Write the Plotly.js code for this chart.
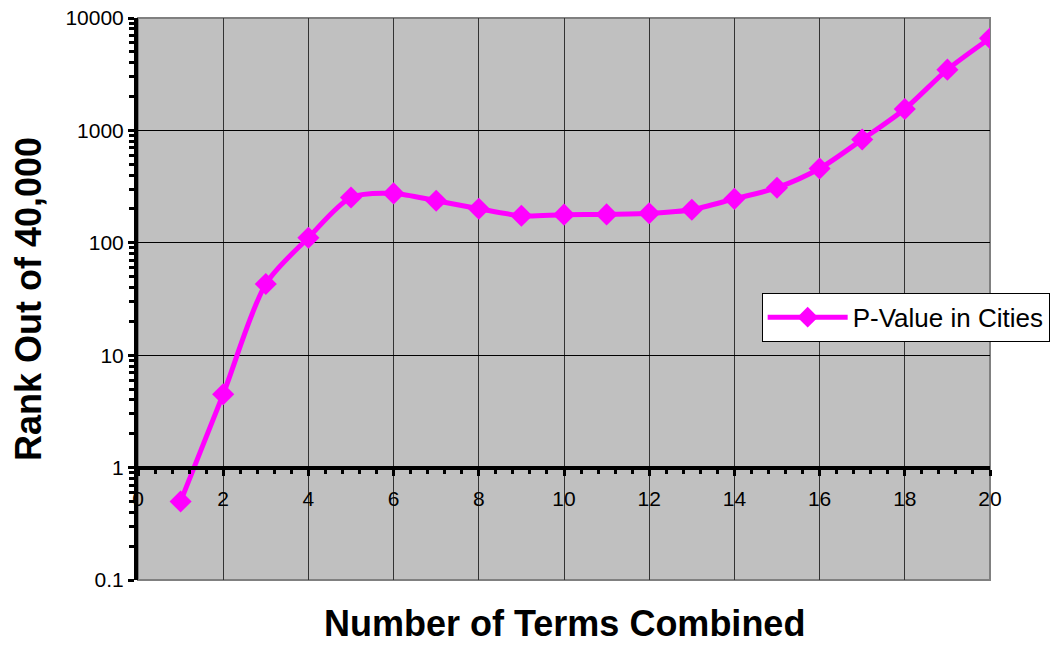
<!DOCTYPE html>
<html>
<head>
<meta charset="utf-8">
<script src="https://cdn.plot.ly/plotly-3.0.1.min.js"></script>
<style>html,body{margin:0;padding:0;background:#fff;}#chart{width:1063px;height:645px;}</style>
</head>
<body>
<div id="chart"></div>
<script>
const termsCombined = [1,2,3,4,5,6,7,8,9,10,11,12,13,14,15,16,17,18,19,20];
const pValueRank = [0.5,4.5,43,111,253,275,237,201,174,178,179,183,197,246,309,458,830,1550,3470,6600];
const yTickVals = [0.1,1,10,100,1000,10000];
const yTickText = ["0.1","1","10","100","1000","10000"];
const xTickVals = [0,2,4,6,8,10,12,14,16,18,20];
const xTickText = ["0","2","4","6","8","10","12","14","16","18","20"];

// minor tick positions on the log axis (2..9 within each decade)
const yMinorVals = [];
for (let d = -1; d < 4; d++) {
  for (let m = 2; m <= 9; m++) yMinorVals.push(m * Math.pow(10, d));
}

const trace = {
  x: termsCombined,
  y: pValueRank,
  type: 'scatter',
  mode: 'lines+markers',
  name: 'P-Value in Cities',
  line: {color: '#FF00FF', width: 5, shape: 'spline', smoothing: 0.8},
  marker: {symbol: 'diamond', color: '#FF00FF', size: 17}
};

const FONT = 'Liberation Sans, Arial, sans-serif';

const layout = {
  width: 1063, height: 645,
  margin: {l: 138, r: 73, t: 18, b: 65},
  paper_bgcolor: '#ffffff',
  plot_bgcolor: '#C0C0C0',
  font: {family: FONT, color: '#000', size: 21},
  showlegend: true,
  legend: {
    x: 0.732, y: 0.511, xanchor: 'left', yanchor: 'top',
    bgcolor: '#ffffff', bordercolor: '#000', borderwidth: 1,
    itemwidth: 80,
    font: {size: 26, color: '#000'}
  },
  xaxis: {
    range: [0, 20],
    anchor: 'free', position: 0.2,
    tickmode: 'array', tickvals: xTickVals, ticktext: xTickText,
    ticks: 'outside', ticklen: 6, tickwidth: 3, tickcolor: '#000',
    ticklabelstandoff: 5,
    showline: true, linecolor: '#000', linewidth: 4,
    showgrid: true, gridcolor: '#333333', gridwidth: 1,
    zeroline: false,
    minor: {dtick: 0.4, tick0: 0, ticks: 'outside', ticklen: 4, tickwidth: 3, tickcolor: '#000', showgrid: false},
    tickfont: {size: 21}
  },
  yaxis: {
    type: 'log',
    range: [-1, 4],
    tickmode: 'array', tickvals: yTickVals, ticktext: yTickText,
    ticks: 'outside', ticklen: 6, tickwidth: 3, tickcolor: '#000',
    showline: true, linecolor: '#000', linewidth: 4,
    showgrid: true, gridcolor: '#000', gridwidth: 1,
    zeroline: false,
    minor: {tickmode: 'array', tickvals: yMinorVals, ticks: 'outside', ticklen: 5, tickwidth: 3, tickcolor: '#000', showgrid: false},
    tickfont: {size: 21},
    title: {text: 'Rank Out of 40,000', font: {size: 36, family: FONT, weight: 'bold'}, standoff: 14}
  },
  shapes: [
    {type: 'rect', xref: 'paper', yref: 'paper', x0: 0, x1: 1, y0: 0, y1: 1,
     line: {color: '#808080', width: 2}, fillcolor: 'rgba(0,0,0,0)', layer: 'below'}
  ],
  annotations: [
    {text: '<b>Number of Terms Combined</b>', xref: 'paper', yref: 'paper', x: 0.5, y: -0.078,
     xanchor: 'center', yanchor: 'middle', showarrow: false,
     font: {size: 36, family: FONT, color: '#000'}}
  ]
};

Plotly.newPlot('chart', [trace], layout, {displayModeBar: false, staticPlot: true});
</script>
</body>
</html>
